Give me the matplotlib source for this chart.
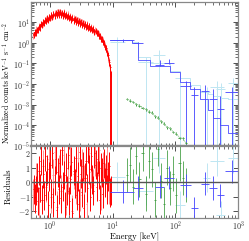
import numpy as np
import matplotlib
matplotlib.use("Agg")
import matplotlib.pyplot as plt

plt.rcParams['font.family'] = ['cmr10', 'DejaVu Serif']
plt.rcParams['mathtext.fontset'] = 'cm'
plt.rcParams['axes.formatter.use_mathtext'] = True
plt.rcParams['axes.unicode_minus'] = False

# ---- data ----
red_e = [0.55, 0.57, 0.59, 0.62, 0.64, 0.67, 0.69, 0.72, 0.75, 0.78,
         0.81, 0.84, 0.87, 0.91, 0.94, 0.98, 1.02, 1.06, 1.10, 1.14,
         1.19, 1.23, 1.28, 1.33, 1.39, 1.44, 1.50, 1.56, 1.62, 1.68,
         1.75, 1.82, 1.89, 1.96, 2.04, 2.12, 2.20, 2.29, 2.38, 2.47,
         2.57, 2.67, 2.77, 2.88, 3.00, 3.11, 3.24, 3.36, 3.49, 3.63,
         3.77, 3.92, 4.08, 4.24, 4.40, 4.58, 4.76, 4.94, 5.14, 5.34,
         5.55, 5.77, 5.99, 6.23, 6.47, 6.73, 6.99, 7.27, 7.55, 7.85,
         8.16, 8.48, 8.81, 9.16, 9.40]
red_logf = [0.38, 0.50, 0.47, 0.64, 0.61, 0.76, 0.74, 0.90, 0.86, 1.00,
            0.95, 1.09, 1.04, 1.18, 1.12, 1.27, 1.21, 1.34, 1.27, 1.39,
            1.31, 1.45, 1.35, 1.47, 1.37, 1.49, 1.36, 1.46, 1.33, 1.42,
            1.29, 1.36, 1.24, 1.31, 1.19, 1.26, 1.13, 1.20, 1.08, 1.15,
            1.03, 1.10, 0.98, 1.05, 0.94, 1.00, 0.88, 0.95, 0.83, 0.90,
            0.78, 0.84, 0.73, 0.79, 0.68, 0.73, 0.61, 0.66, 0.54, 0.58,
            0.46, 0.48, 0.34, 0.33, 0.19, 0.17, 0.04, -0.02, -0.20, -0.27,
            -0.48, -0.60, -0.95, -1.15, -1.50]
red_res = [-0.5, -1.1, -0.6, 0.3, -1.3, 0.8, -0.4, 1.5, -1.2, 0.6,
           -0.9, 1.8, -0.2, 0.9, -1.6, 0.4, 1.2, -0.8, 2.0, -1.4,
           0.1, 1.6, -1.9, 0.7, -0.5, 1.3, -1.1, 2.2, -0.3, 0.5,
           -1.7, 1.0, -0.6, 1.9, -1.3, 0.2, 1.4, -2.1, 0.8, -0.1,
           1.7, -0.9, 0.4, -1.5, 2.1, 0.6, -0.7, 1.1, -1.8, 0.3,
           1.5, -0.4, 2.3, 0.9, -1.0, 1.8, 0.2, -0.6, 2.0, 1.2,
           -0.3, 1.6, 0.5, -1.2, 1.0, 0.7, -0.8, 1.3, 0.0, 0.9,
           -0.5, 0.4, 1.1, -0.7, -0.6]
red_cut = 9.55

pink_e = [0.53, 0.61, 0.68, 0.77, 0.86, 0.96, 1.04, 1.13, 1.21, 1.31,
          1.42, 1.53, 1.65, 1.78, 1.93, 2.08, 2.25, 2.43, 2.62, 2.83,
          3.05, 3.30, 3.56, 3.84, 4.15, 4.48, 4.83, 5.22, 5.63, 6.08,
          6.56, 7.08, 7.65, 8.26, 8.90]
pink_logf = [0.35, 0.62, 0.80, 0.97, 1.10, 1.22, 1.30, 1.36, 1.42, 1.44,
             1.47, 1.43, 1.45, 1.38, 1.34, 1.28, 1.22, 1.17, 1.12, 1.06,
             1.02, 0.96, 0.91, 0.86, 0.80, 0.75, 0.67, 0.60, 0.50, 0.38,
             0.22, 0.08, -0.12, -0.42, -0.85]
pink_res = [-0.9, 0.2, -1.4, 1.1, -0.3, 1.6, -1.0, 0.5, 2.1, -1.7,
            0.8, -0.6, 1.9, -1.2, 0.3, 1.4, -2.0, 0.6, -0.4, 1.7,
            -0.9, 1.2, 0.1, -1.5, 2.0, 0.7, -0.2, 1.5, 0.4, 2.2,
            -0.8, 1.0, 0.2, 1.3, -0.4]

blue_lo = [9.1, 21, 48, 66, 120, 175, 255, 350, 460, 630]
blue_hi = [22, 30, 66, 95, 180, 230, 350, 460, 600, 1000]
blue_e = [14.5, 25, 57, 80, 150, 200, 300, 400, 520, 800]
blue_f = [1.3, 1.0, 0.087, 0.11, 0.0085, 0.003, 0.0047, 0.0018, 0.0006, 0.004]
blue_up = [0.15, 0.12, 0.06, 0.05, 0.006, 0.004, 0.004, 0.004, 0.002, 0.003]
blue_res = [-0.67, -0.4, -0.3, 0.3, -0.2, -1.8, -0.1, -0.4, -0.9, 0.76]

blue_edges = [9.1, 20.5, 25, 40, 83, 120, 174, 251, 337, 405, 525, 680, 1000]
blue_model = [1.3, 1.0, 0.15, 0.078, 0.037, 0.013, 0.006, 0.0018, 5.8e-4,
              2.4e-4, 1.1e-4, 4.5e-5]

lblue_lo = [9.1, 25.6, 44.6, 100, 280, 360, 440, 700]
lblue_hi = [15.8, 44.6, 69, 145, 360, 590, 630, 1000]
lblue_e = [11.8, 33.8, 55, 120, 320, 460, 530, 840]
lblue_f = [1.1, 0.12, 0.26, 0.02, 0.004, 0.0075, 0.006, 0.011]
lblue_res = [0.37, -0.6, 1.65, -1.6, 0.3, 1.45, -2.3, 1.65]
lblue_model = [1.4, 1.15, 0.2, 0.1, 0.045, 0.02, 0.009, 0.004, 0.0035,
               0.0028, 0.0022, 0.002]

green_e = [17, 19, 21.3, 23.9, 26.8, 30, 33.6, 37.6, 42.1, 47.2,
           52.8, 59.2, 66.3, 74.2, 83.1, 93.1, 104, 117, 131, 147]
green_logf = [-2.72, -2.80, -2.86, -2.97, -3.04, -3.15, -3.22, -3.33, -3.38, -3.55,
              -3.62, -3.80, -3.92, -4.10, -4.14, -4.32, -4.40, -4.60, -4.62, -4.85]
green_res = [0.5, 1.2, -0.3, 1.8, 0.2, 2.0, -0.8, 1.5, 0.9, -1.2,
             2.3, 0.1, -1.5, 1.0, -0.4, 0.6, -0.9, 1.3, 0.3, -0.2]

# ---- figure ----
fig = plt.figure(figsize=(2.49, 2.41), dpi=100)
ax1 = fig.add_axes([0.1245, 0.394, 0.8315, 0.598])
ax2 = fig.add_axes([0.1245, 0.094, 0.8315, 0.300], sharex=ax1)

red_c = '#ff0000'
pink_c = '#ff9090'
blue_c = '#4a4aff'
lblue_c = '#bfe6f2'
green_c = '#3a9a3a'
lw = 0.7
bottom = 1e-5

def xerr_of(e, lo, hi):
    e = np.array(e)
    return [e - np.array(lo), np.array(hi) - e]

rf = 10 ** np.array(red_logf)
pf = 10 ** np.array(pink_logf)
gf = 10 ** np.array(green_logf)
re_ = np.array(red_e)
pe = np.array(pink_e)
ge = np.array(green_e)

# light data first, darker on top
ax1.errorbar(lblue_e, lblue_f, xerr=xerr_of(lblue_e, lblue_lo, lblue_hi),
             yerr=[np.array(lblue_f) - bottom * 0.5, np.array(lblue_f) * 0.8],
             fmt='none', ecolor=lblue_c, elinewidth=lw)
ax1.step(blue_edges, lblue_model + [lblue_model[-1]], where='post',
         color=lblue_c, lw=lw)
ax1.errorbar(pe, pf, xerr=pe * 0.035, yerr=[pf * 0.35, pf * 0.5],
             fmt='none', ecolor=pink_c, elinewidth=lw)
ax1.errorbar(re_, rf, xerr=re_ * 0.02, yerr=[rf * 0.3, rf * 0.4],
             fmt='none', ecolor=red_c, elinewidth=lw)
ax1.plot(re_, rf, color=red_c, lw=lw)
ax1.plot([red_e[-1], red_cut, red_cut], [rf[-1], rf[-1], bottom * 0.1],
         color=red_c, lw=lw)
ax1.plot([red_e[-2], red_e[-2]], [rf[-2], bottom * 0.1], color=red_c, lw=lw)

bf = np.array(blue_f)
ax1.step(blue_edges, blue_model + [blue_model[-1]], where='post',
         color=blue_c, lw=lw, alpha=0.85)
blue_down = np.where(np.array(blue_e) > 100, bf - bottom * 0.5, bf * 0.15)
ax1.errorbar(blue_e, bf, xerr=xerr_of(blue_e, blue_lo, blue_hi),
             yerr=[blue_down, blue_up], fmt='none', ecolor=blue_c,
             elinewidth=lw, alpha=0.9)

ax1.errorbar(ge, gf, xerr=ge * 0.04, yerr=gf * 0.15, fmt='none',
             ecolor=green_c, elinewidth=lw)
ax1.plot(ge, gf, color='#9ccf9c', lw=0.5)

ax1.set_xscale('log')
ax1.set_yscale('log')
ax1.set_xlim(0.5, 1000)
ax1.set_ylim(1e-5, 95)
ax1.set_ylabel(r'Normalized counts keV$^{-1}$ s$^{-1}$ cm$^{-2}$',
               fontsize=5.6)
ax1.yaxis.set_label_coords(-0.088, 0.44)

# residuals
ax2.errorbar(lblue_e, lblue_res, xerr=xerr_of(lblue_e, lblue_lo, lblue_hi),
             yerr=1, fmt='none', ecolor=lblue_c, elinewidth=lw)
ax2.errorbar(pe, pink_res, xerr=pe * 0.035, yerr=1.1, fmt='none',
             ecolor=pink_c, elinewidth=lw)
ax2.errorbar(re_, red_res, xerr=re_ * 0.02, yerr=1.0, fmt='none',
             ecolor=red_c, elinewidth=lw)
ax2.errorbar(ge, green_res, xerr=ge * 0.04, yerr=1.2, fmt='none',
             ecolor=green_c, elinewidth=lw, alpha=0.8)
ax2.errorbar(blue_e, blue_res, xerr=xerr_of(blue_e, blue_lo, blue_hi),
             yerr=0.8, fmt='none', ecolor=blue_c, elinewidth=lw, alpha=0.9)
ax2.axhline(0, color='#555555', lw=1.0)
ax2.set_ylim(-2.5, 2.5)
ax2.set_yticks([-2, -1, 0, 1, 2])
ax2.set_ylabel('Residuals', fontsize=6.2)
ax2.yaxis.set_label_coords(-0.088, 0.45)
ax2.set_xlabel('Energy [keV]', fontsize=6.2)
ax2.xaxis.set_label_coords(0.5, -0.2)

for ax in (ax1, ax2):
    ax.tick_params(which='both', direction='in', top=True, right=True,
                   labelsize=5.8, colors='#333333', pad=0.5)
    ax.tick_params(which='major', length=3.5, width=0.6)
    ax.tick_params(which='minor', length=2, width=0.5)
    for s in ax.spines.values():
        s.set_color('#888888')
        s.set_linewidth(0.9)
ax1.tick_params(labelbottom=False)
ax1.spines['bottom'].set_linewidth(1.6)
ax2.spines['top'].set_linewidth(1.6)
ax1.set_yticks([1e1, 1e0, 1e-1, 1e-2, 1e-3, 1e-4, 1e-5])
ax1.set_ylim(1e-5, 95)
ax1.yaxis.set_minor_locator(matplotlib.ticker.LogLocator(subs=np.arange(2, 10)))
ax1.yaxis.set_minor_formatter(matplotlib.ticker.NullFormatter())

fig.savefig('out.png', dpi=100)
